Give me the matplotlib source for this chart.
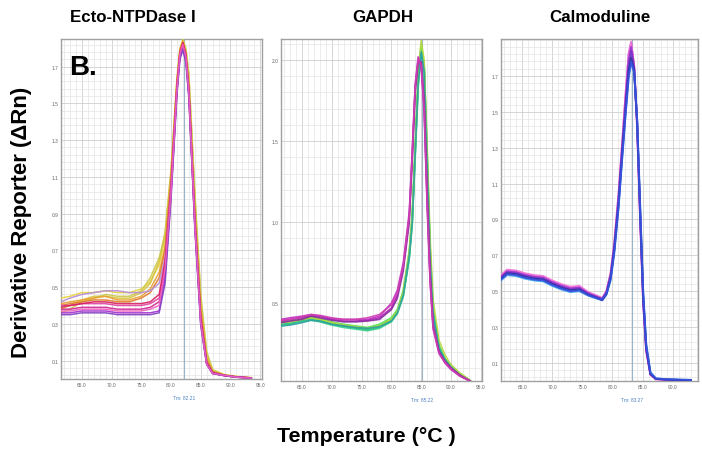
import matplotlib
matplotlib.use('Agg')
import matplotlib.pyplot as plt
from matplotlib.ticker import MultipleLocator, FixedLocator
from matplotlib.transforms import blended_transform_factory

plt.rcParams['font.family'] = ['Liberation Sans', 'DejaVu Sans']

# ---- Ecto-NTPDase I melt curves ----
T_ECTO = [61.5, 63, 65, 67, 69, 71, 73, 75, 76.5, 78, 79, 80, 81, 81.5, 82, 82.5, 83, 84, 85, 86, 87, 89, 91, 93.5]
ECTO_CURVES = [
    [0.44, 0.45, 0.47, 0.47, 0.48, 0.47, 0.47, 0.49, 0.53, 0.62, 0.76, 1.10, 1.60, 1.76, 1.81, 1.79, 1.65, 1.00, 0.44, 0.14, 0.05, 0.025, 0.015, 0.008],
    [0.38, 0.40, 0.43, 0.45, 0.45, 0.44, 0.44, 0.47, 0.52, 0.64, 0.80, 1.14, 1.64, 1.80, 1.84, 1.78, 1.62, 0.96, 0.40, 0.12, 0.045, 0.02, 0.012, 0.006],
    [0.36, 0.38, 0.42, 0.44, 0.46, 0.45, 0.45, 0.48, 0.55, 0.66, 0.78, 1.12, 1.62, 1.79, 1.85, 1.80, 1.66, 1.02, 0.46, 0.15, 0.05, 0.02, 0.012, 0.006],
    [0.41, 0.42, 0.43, 0.44, 0.45, 0.43, 0.43, 0.45, 0.49, 0.58, 0.72, 1.10, 1.62, 1.79, 1.84, 1.77, 1.60, 0.92, 0.38, 0.11, 0.04, 0.02, 0.012, 0.006],
    [0.40, 0.41, 0.42, 0.43, 0.43, 0.42, 0.42, 0.44, 0.47, 0.55, 0.70, 1.08, 1.61, 1.78, 1.83, 1.76, 1.58, 0.90, 0.36, 0.10, 0.04, 0.02, 0.01, 0.005],
    [0.42, 0.44, 0.46, 0.47, 0.48, 0.48, 0.47, 0.47, 0.48, 0.52, 0.66, 1.04, 1.58, 1.76, 1.81, 1.75, 1.56, 0.87, 0.33, 0.09, 0.035, 0.02, 0.01, 0.005],
    [0.40, 0.40, 0.41, 0.41, 0.41, 0.40, 0.40, 0.40, 0.41, 0.44, 0.62, 1.03, 1.59, 1.77, 1.82, 1.76, 1.57, 0.86, 0.32, 0.085, 0.03, 0.02, 0.012, 0.006],
    [0.38, 0.38, 0.39, 0.39, 0.39, 0.38, 0.38, 0.38, 0.39, 0.42, 0.58, 1.01, 1.57, 1.76, 1.81, 1.74, 1.55, 0.84, 0.31, 0.08, 0.03, 0.018, 0.01, 0.005],
    [0.39, 0.40, 0.41, 0.42, 0.42, 0.41, 0.41, 0.41, 0.42, 0.46, 0.64, 1.05, 1.60, 1.78, 1.83, 1.77, 1.58, 0.88, 0.34, 0.09, 0.035, 0.02, 0.012, 0.006],
    [0.36, 0.36, 0.37, 0.37, 0.37, 0.36, 0.36, 0.36, 0.36, 0.37, 0.55, 1.00, 1.56, 1.75, 1.80, 1.73, 1.54, 0.84, 0.30, 0.08, 0.03, 0.018, 0.01, 0.005],
    [0.35, 0.35, 0.36, 0.36, 0.36, 0.35, 0.35, 0.35, 0.35, 0.36, 0.52, 0.98, 1.55, 1.74, 1.79, 1.72, 1.53, 0.82, 0.29, 0.08, 0.03, 0.018, 0.01, 0.005],
    [0.37, 0.37, 0.38, 0.38, 0.38, 0.37, 0.37, 0.37, 0.38, 0.40, 0.60, 1.02, 1.58, 1.77, 1.82, 1.75, 1.56, 0.85, 0.31, 0.08, 0.03, 0.02, 0.01, 0.005],
]
ECTO_COLORS = ['#e6d33a', '#d8c23c', '#c9c84c', '#e8a030', '#e07a2a', '#b48cd8',
               '#e040a0', '#d02890', '#d82060', '#a030d0', '#8040c0', '#f060c0']

# ---- GAPDH melt curves ----
T_GAPDH = [61.5, 63, 65, 66.5, 68, 70, 72, 74, 76, 78, 80, 81, 82, 83, 83.5, 84, 84.5, 85, 85.5, 86, 86.5, 87, 88, 89, 90, 91.5, 93.2]
GAPDH_CURVES = [
    [0.38, 0.385, 0.40, 0.41, 0.40, 0.38, 0.36, 0.35, 0.34, 0.36, 0.40, 0.45, 0.56, 0.80, 1.02, 1.45, 1.88, 2.08, 1.95, 1.38, 0.80, 0.44, 0.22, 0.15, 0.11, 0.06, 0.02],
    [0.37, 0.375, 0.39, 0.40, 0.39, 0.37, 0.355, 0.345, 0.335, 0.35, 0.39, 0.44, 0.55, 0.78, 1.00, 1.42, 1.85, 2.06, 1.96, 1.40, 0.82, 0.45, 0.23, 0.155, 0.11, 0.06, 0.02],
    [0.385, 0.39, 0.405, 0.415, 0.405, 0.385, 0.37, 0.36, 0.35, 0.37, 0.41, 0.46, 0.58, 0.82, 1.05, 1.48, 1.90, 2.10, 1.97, 1.42, 0.84, 0.47, 0.24, 0.16, 0.115, 0.065, 0.025],
    [0.36, 0.37, 0.385, 0.395, 0.385, 0.365, 0.35, 0.34, 0.33, 0.345, 0.385, 0.435, 0.54, 0.77, 0.98, 1.40, 1.83, 2.05, 1.97, 1.43, 0.84, 0.46, 0.23, 0.15, 0.11, 0.06, 0.02],
    [0.38, 0.385, 0.40, 0.41, 0.40, 0.38, 0.365, 0.355, 0.345, 0.36, 0.40, 0.45, 0.57, 0.82, 1.04, 1.46, 1.90, 2.12, 2.00, 1.48, 0.90, 0.52, 0.27, 0.18, 0.12, 0.07, 0.025],
    [0.36, 0.365, 0.38, 0.395, 0.39, 0.37, 0.36, 0.35, 0.345, 0.355, 0.39, 0.44, 0.55, 0.79, 1.00, 1.43, 1.86, 2.05, 1.93, 1.36, 0.78, 0.43, 0.22, 0.15, 0.105, 0.055, 0.02],
    [0.39, 0.40, 0.41, 0.425, 0.42, 0.40, 0.39, 0.39, 0.395, 0.41, 0.47, 0.55, 0.72, 1.02, 1.40, 1.82, 2.00, 1.98, 1.72, 1.15, 0.66, 0.36, 0.20, 0.14, 0.10, 0.055, 0.02],
    [0.40, 0.41, 0.42, 0.43, 0.42, 0.405, 0.40, 0.40, 0.40, 0.42, 0.50, 0.58, 0.75, 1.06, 1.44, 1.85, 2.02, 1.96, 1.68, 1.10, 0.63, 0.34, 0.19, 0.13, 0.09, 0.05, 0.02],
    [0.38, 0.39, 0.40, 0.42, 0.41, 0.395, 0.385, 0.385, 0.39, 0.40, 0.46, 0.53, 0.70, 1.00, 1.38, 1.80, 1.99, 1.99, 1.75, 1.18, 0.68, 0.37, 0.20, 0.14, 0.10, 0.055, 0.02],
    [0.395, 0.40, 0.415, 0.43, 0.425, 0.41, 0.40, 0.40, 0.41, 0.43, 0.49, 0.56, 0.73, 1.04, 1.42, 1.84, 2.01, 1.97, 1.70, 1.12, 0.64, 0.35, 0.19, 0.135, 0.095, 0.05, 0.02],
]
GAPDH_COLORS = ['#30d060', '#20c070', '#50e050', '#40d090', '#b8d840', '#2aa0a0',
                '#b01fb0', '#c030c8', '#8a2aa0', '#d040b0']

# ---- Calmoduline melt curves ----
T_CALM = [61.5, 62.5, 64, 65.5, 67, 68.5, 70, 71.5, 73, 74.5, 76, 77.5, 78.3, 79, 79.7, 80.3, 81, 81.6, 82.2, 82.7, 83.1, 83.6, 84.1, 84.6, 85.1, 85.6, 86.3, 87.2, 89, 91, 93]
CALM_CURVES = [
    [0.585, 0.615, 0.61, 0.595, 0.585, 0.58, 0.555, 0.535, 0.52, 0.525, 0.49, 0.47, 0.46, 0.50, 0.60, 0.76, 1.03, 1.31, 1.60, 1.82, 1.88, 1.76, 1.42, 0.90, 0.44, 0.17, 0.035, 0.01, 0.007, 0.005, 0.004],
    [0.59, 0.62, 0.615, 0.60, 0.59, 0.585, 0.56, 0.54, 0.525, 0.53, 0.495, 0.475, 0.462, 0.50, 0.60, 0.77, 1.04, 1.32, 1.61, 1.83, 1.89, 1.75, 1.40, 0.89, 0.43, 0.165, 0.035, 0.01, 0.007, 0.005, 0.004],
    [0.58, 0.61, 0.605, 0.59, 0.58, 0.575, 0.55, 0.53, 0.515, 0.52, 0.488, 0.468, 0.458, 0.495, 0.59, 0.75, 1.01, 1.29, 1.57, 1.79, 1.86, 1.75, 1.43, 0.92, 0.45, 0.175, 0.038, 0.011, 0.008, 0.006, 0.005],
    [0.575, 0.605, 0.60, 0.585, 0.575, 0.57, 0.545, 0.525, 0.51, 0.515, 0.485, 0.465, 0.455, 0.49, 0.58, 0.74, 1.00, 1.28, 1.55, 1.76, 1.84, 1.74, 1.44, 0.93, 0.46, 0.18, 0.04, 0.012, 0.008, 0.006, 0.005],
    [0.56, 0.59, 0.585, 0.57, 0.56, 0.555, 0.53, 0.51, 0.495, 0.50, 0.475, 0.458, 0.45, 0.48, 0.56, 0.71, 0.96, 1.23, 1.49, 1.69, 1.77, 1.72, 1.46, 0.98, 0.50, 0.21, 0.05, 0.015, 0.01, 0.008, 0.006],
    [0.57, 0.60, 0.595, 0.58, 0.57, 0.565, 0.54, 0.52, 0.505, 0.51, 0.48, 0.462, 0.45, 0.485, 0.575, 0.73, 0.98, 1.26, 1.52, 1.73, 1.80, 1.73, 1.44, 0.94, 0.47, 0.19, 0.04, 0.012, 0.008, 0.006, 0.005],
    [0.565, 0.595, 0.59, 0.575, 0.565, 0.56, 0.535, 0.515, 0.50, 0.505, 0.478, 0.46, 0.452, 0.485, 0.57, 0.72, 0.97, 1.24, 1.50, 1.70, 1.78, 1.72, 1.45, 0.96, 0.49, 0.20, 0.045, 0.014, 0.009, 0.007, 0.006],
]
CALM_COLORS = ['#d048c8', '#f070d8', '#9a3ad0', '#7a35c8', '#3aa8e8', '#2a3098', '#3a4fe0']

TITLES = ['Ecto-NTPDase I', 'GAPDH', 'Calmoduline']
TM_VALUES = [82.21, 85.22, 83.27]
X_TICKS = [65, 70, 75, 80, 85, 90, 95]
ECTO_YTICKS = [0.1, 0.3, 0.5, 0.7, 0.9, 1.1, 1.3, 1.5, 1.7]
GAPDH_YTICKS = [0.5, 1.0, 1.5, 2.0]
CALM_YTICKS = [0.1, 0.3, 0.5, 0.7, 0.9, 1.1, 1.3, 1.5, 1.7]


def style_panel(ax, xlim, yticks, ylim, minor_y, tm):
    ax.set_xlim(*xlim)
    ax.set_ylim(*ylim)
    ax.xaxis.set_major_locator(FixedLocator(X_TICKS))
    ax.xaxis.set_minor_locator(MultipleLocator(1))
    ax.set_xticklabels(['%.1f' % t for t in X_TICKS])
    ax.yaxis.set_major_locator(FixedLocator(yticks))
    ax.yaxis.set_minor_locator(minor_y)
    ax.set_yticklabels(['%.1f' % t for t in yticks])
    ax.tick_params(which='both', length=0, labelsize=3.5, labelcolor='#666666', pad=2)
    ax.grid(which='major', color='#cfcfcf', lw=0.6)
    ax.grid(which='minor', color='#e4e4e4', lw=0.5)
    ax.set_axisbelow(True)
    for sp in ax.spines.values():
        sp.set_color('#a0a0a0')
        sp.set_linewidth(1.0)
    ax.axvline(tm, color='#9ab4c8', lw=0.8, zorder=1)
    trans = blended_transform_factory(ax.transData, ax.transAxes)
    ax.text(tm, -0.055, 'Tm: %.2f' % tm, transform=trans, ha='center', va='center',
            fontsize=3.5, color='#4a80c0')


def draw_curves(ax, temps, curves, colors, lw):
    for vals, c in zip(curves, colors):
        ax.plot(temps, vals, color=c, lw=lw, alpha=0.9, zorder=3)


fig = plt.figure(figsize=(7.02, 4.56), dpi=100)

ax1 = fig.add_axes([61 / 702, 1 - 380 / 456, 201 / 702, 340 / 456])
ax2 = fig.add_axes([281 / 702, 1 - 382 / 456, 201 / 702, 342 / 456])
ax3 = fig.add_axes([501 / 702, 1 - 382 / 456, 197 / 702, 342 / 456])

draw_curves(ax1, T_ECTO, ECTO_CURVES, ECTO_COLORS, 1.1)
style_panel(ax1, (61.5, 95.3), ECTO_YTICKS, (0.0, 1.85), MultipleLocator(0.04, offset=0.02), TM_VALUES[0])
ax1.text(0.04, 0.955, 'B.', transform=ax1.transAxes, fontsize=20, fontweight='bold',
         ha='left', va='top')

draw_curves(ax2, T_GAPDH, GAPDH_CURVES, GAPDH_COLORS, 1.2)
style_panel(ax2, (61.5, 95.2), GAPDH_YTICKS, (0.02, 2.13), MultipleLocator(0.1), TM_VALUES[1])

draw_curves(ax3, T_CALM, CALM_CURVES, CALM_COLORS, 1.4)
style_panel(ax3, (61.5, 94.2), CALM_YTICKS, (0.0, 1.905), MultipleLocator(0.04, offset=0.02), TM_VALUES[2])

# titles sit a bit left of the panel centres in the original
fig.text(133 / 702, 1 - 18 / 456, TITLES[0], ha='center', va='center', fontsize=12.2, fontweight='bold')
fig.text(383 / 702, 1 - 18 / 456, TITLES[1], ha='center', va='center', fontsize=12.2, fontweight='bold')
fig.text(600 / 702, 1 - 18 / 456, TITLES[2], ha='center', va='center', fontsize=12.2, fontweight='bold')

fig.text(22 / 702, 1 - 222 / 456, 'Derivative Reporter (\u0394Rn)', rotation=90,
         ha='center', va='center', fontsize=16, fontweight='bold')
fig.text(366 / 702, 1 - 437 / 456, 'Temperature (\u00b0C )', ha='center', va='center',
         fontsize=15.4, fontweight='bold')

fig.savefig('out.png', dpi=100)
